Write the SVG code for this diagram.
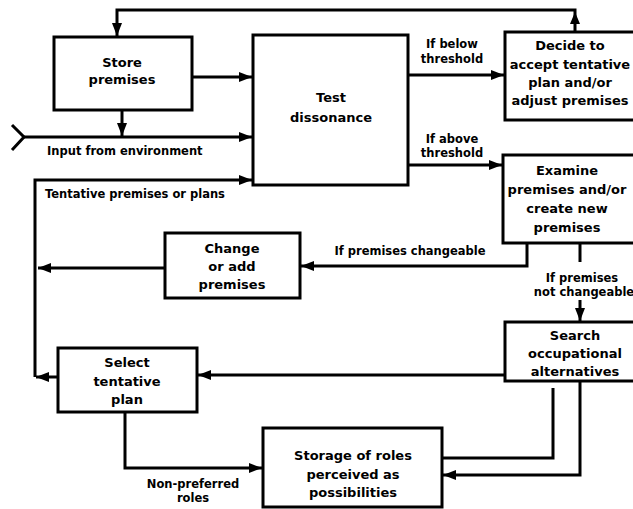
<svg xmlns="http://www.w3.org/2000/svg" width="633" height="509" viewBox="0 0 633 509">
<defs>
<style>
.box{fill:#fff;stroke:#000;stroke-width:3}
.c{fill:none;stroke:#000;stroke-width:3}
.t{font-family:"DejaVu Sans","Liberation Sans",sans-serif;font-weight:bold;font-size:13px;text-anchor:middle;fill:#000}
.l{font-family:"DejaVu Sans","Liberation Sans",sans-serif;font-weight:bold;font-size:11.5px;fill:#000}
.m{text-anchor:middle}
</style>
<marker id="ah" markerUnits="userSpaceOnUse" markerWidth="14" markerHeight="10" refX="13" refY="5" orient="auto"><path d="M0,0 L13,5 L0,10 z" fill="#000"/></marker>
</defs>
<rect width="633" height="509" fill="#fff"/>
<g id="connectors">
<path class="c" d="M575,32 V10 H117 V36" marker-end="url(#ah)"/>
<path d="M575,12 L570,24 L580,24 z" fill="#000"/>
<path class="c" d="M192,77 H252" marker-end="url(#ah)"/>
<path class="c" d="M122,110 V136" marker-end="url(#ah)"/>
<path class="c" d="M12,125 L24,137 L12,150"/>
<path class="c" d="M24,137 H252" marker-end="url(#ah)"/>
<path class="c" d="M35,377 V180 H252" marker-end="url(#ah)"/>
<path class="c" d="M58,377 H36" marker-end="url(#ah)"/>
<path class="c" d="M165,268 H38" marker-end="url(#ah)"/>
<path class="c" d="M408,75 H504" marker-end="url(#ah)"/>
<path class="c" d="M408,165 H502" marker-end="url(#ah)"/>
<path class="c" d="M527,243 V266 H301" marker-end="url(#ah)"/>
<path class="c" d="M580,243 V262"/>
<path class="c" d="M580,300 V321" marker-end="url(#ah)"/>
<path class="c" d="M505,375 H198" marker-end="url(#ah)"/>
<path class="c" d="M125,412 V468 H262" marker-end="url(#ah)"/>
<path class="c" d="M553,388 V458 H442"/>
<path class="c" d="M580,380 V475 H443" marker-end="url(#ah)"/>
</g>
<g id="labels">
<text class="l" x="47" y="155">Input from environment</text>
<text class="l" x="45" y="198">Tentative premises or plans</text>
<text class="l m" x="452" y="48">If below</text>
<text class="l m" x="452" y="63">threshold</text>
<text class="l m" x="452" y="143">If above</text>
<text class="l m" x="452" y="157">threshold</text>
<text class="l m" x="410" y="255">If premises changeable</text>
<text class="l m" x="582" y="282">If premises</text>
<text class="l m" x="584" y="296">not changeable</text>
<text class="l m" x="193" y="488">Non-preferred</text>
<text class="l m" x="193" y="502">roles</text>
</g>
<g id="store">
<rect class="box" x="54" y="37" width="138" height="73"/>
<text class="t" x="122" y="67">Store</text>
<text class="t" x="122" y="84">premises</text>
</g>
<g id="test">
<rect class="box" x="253" y="35" width="155" height="150"/>
<text class="t" x="331" y="102">Test</text>
<text class="t" x="331" y="122">dissonance</text>
</g>
<g id="decide">
<rect class="box" x="505" y="32" width="140" height="88"/>
<text class="t" x="570" y="50">Decide to</text>
<text class="t" x="570" y="69">accept tentative</text>
<text class="t" x="570" y="87">plan and/or</text>
<text class="t" x="570" y="105">adjust premises</text>
</g>
<g id="examine">
<rect class="box" x="503" y="155" width="142" height="88"/>
<text class="t" x="567" y="175">Examine</text>
<text class="t" x="567" y="194">premises and/or</text>
<text class="t" x="567" y="213">create new</text>
<text class="t" x="567" y="232">premises</text>
</g>
<g id="change">
<rect class="box" x="165" y="233" width="135" height="65"/>
<text class="t" x="232" y="253">Change</text>
<text class="t" x="232" y="271">or add</text>
<text class="t" x="232" y="289">premises</text>
</g>
<g id="search">
<rect class="box" x="505" y="322" width="140" height="59"/>
<text class="t" x="575" y="340">Search</text>
<text class="t" x="575" y="358">occupational</text>
<text class="t" x="575" y="376">alternatives</text>
</g>
<g id="select">
<rect class="box" x="58" y="348" width="139" height="64"/>
<text class="t" x="127" y="367">Select</text>
<text class="t" x="127" y="386">tentative</text>
<text class="t" x="127" y="404">plan</text>
</g>
<g id="storage">
<rect class="box" x="263" y="428" width="179" height="79"/>
<text class="t" x="353" y="460">Storage of roles</text>
<text class="t" x="353" y="479">perceived as</text>
<text class="t" x="353" y="497">possibilities</text>
</g>
</svg>
